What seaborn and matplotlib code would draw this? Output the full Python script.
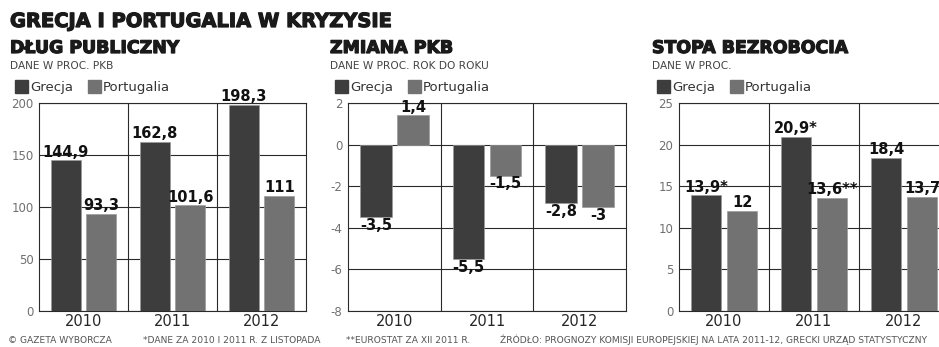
import matplotlib
matplotlib.use("Agg")
import matplotlib.pyplot as plt
import matplotlib.patheffects as pe
import seaborn as sns
import pandas as pd
from matplotlib.patches import Patch

years = ["2010", "2011", "2012"]
countries = ["Grecja", "Portugalia"]

dlug_grecja = [144.9, 162.8, 198.3]
dlug_portugalia = [93.3, 101.6, 111]
dlug_labels_g = ["144,9", "162,8", "198,3"]
dlug_labels_p = ["93,3", "101,6", "111"]

pkb_grecja = [-3.5, -5.5, -2.8]
pkb_portugalia = [1.4, -1.5, -3]
pkb_labels_g = ["-3,5", "-5,5", "-2,8"]
pkb_labels_p = ["1,4", "-1,5", "-3"]

bezrob_grecja = [13.9, 20.9, 18.4]
bezrob_portugalia = [12, 13.6, 13.7]
bezrob_labels_g = ["13,9*", "20,9*", "18,4"]
bezrob_labels_p = ["12", "13,6**", "13,7"]

sns.set_theme(style="white")
plt.rcParams['font.family'] = ['DejaVu Sans']

W, H = 939, 347
fig = plt.figure(figsize=(W / 100, H / 100), dpi=100)
fig.patch.set_facecolor("white")

palette = {"Grecja": "#3d3d3d", "Portugalia": "#727272"}
grid_c = "#2a2a2a"
heavy = [pe.withStroke(linewidth=0.9, foreground="#1a1a1a")]


def px(x0, y0, x1, y1):
    return [x0 / W, 1 - y1 / H, (x1 - x0) / W, (y1 - y0) / H]


def panel(rect, g, p, lg, lp, ylim, yticks, title, sub, tx):
    ax = fig.add_axes(rect)
    df = pd.DataFrame({
        "rok": years * 2,
        "kraj": ["Grecja"] * 3 + ["Portugalia"] * 3,
        "val": list(g) + list(p),
    })
    sns.barplot(data=df, x="rok", y="val", hue="kraj", palette=palette,
                width=0.8, gap=0.15, ax=ax, legend=False, edgecolor="#9a9a9a",
                linewidth=0.5, zorder=3)
    ax.set_ylim(*ylim)
    ax.set_xlim(-0.5, 2.5)
    ax.set_yticks(yticks)
    ax.set_yticklabels([str(t) for t in yticks], color="#707070", fontsize=8.5)
    ax.tick_params(axis="y", length=3, width=0.8, color=grid_c, pad=1)
    ax.tick_params(axis="x", length=0, labelsize=10.5, pad=2)
    ax.set_xlabel("")
    ax.set_ylabel("")
    for yv in yticks:
        ax.axhline(yv, color=grid_c, lw=0.8, zorder=1)
    for xv in [0.5, 1.5]:
        ax.axvline(xv, color=grid_c, lw=0.8, zorder=1)
    for s in ax.spines.values():
        s.set_color(grid_c)
        s.set_linewidth(0.8)
    for cont, labs in zip(ax.containers, [lg, lp]):
        ax.bar_label(cont, labels=labs, padding=0.5, fontsize=10.5,
                     fontweight="bold", color="#111111", zorder=5)
    fig.text(tx / W, 1 - 53 / H, title, fontsize=12.5, fontweight="heavy",
             color="#1a1a1a", ha="left", va="baseline", path_effects=heavy)
    fig.text(tx / W, 1 - 69 / H, sub, fontsize=7.6, color="#444444",
             ha="left", va="baseline")
    handles = [Patch(facecolor=palette[c], edgecolor=palette[c]) for c in countries]
    ax.legend(handles, countries, ncol=2, loc="center left",
              bbox_to_anchor=((tx - 7) / W, 1 - 87 / H), bbox_transform=fig.transFigure,
              frameon=False, handlelength=1.0, handleheight=1.1, handletextpad=0.15,
              columnspacing=1.1, fontsize=9.5, labelcolor="#333333")
    return ax


panel(px(39, 103, 306, 311), dlug_grecja, dlug_portugalia, dlug_labels_g,
      dlug_labels_p, (0, 200), [0, 50, 100, 150, 200], "DŁUG PUBLICZNY",
      "DANE W PROC. PKB", 10)
panel(px(348, 103, 626, 311), pkb_grecja, pkb_portugalia, pkb_labels_g,
      pkb_labels_p, (-8, 2), [-8, -6, -4, -2, 0, 2], "ZMIANA PKB",
      "DANE W PROC. ROK DO ROKU", 330)
panel(px(679, 103, 949, 311), bezrob_grecja, bezrob_portugalia, bezrob_labels_g,
      bezrob_labels_p, (0, 25), [0, 5, 10, 15, 20, 25], "STOPA BEZROBOCIA",
      "DANE W PROC.", 652)

fig.text(10 / W, 1 - 27 / H, "GRECJA I PORTUGALIA W KRYZYSIE", fontsize=14,
         fontweight="heavy", color="#1a1a1a", ha="left", va="baseline",
         path_effects=heavy)

foot = dict(fontsize=6.6, color="#555555", va="baseline", ha="left")
fig.text(8 / W, 1 - 343 / H, "© GAZETA WYBORCZA", **foot)
fig.text(143 / W, 1 - 343 / H, "*DANE ZA 2010 I 2011 R. Z LISTOPADA", **foot)
fig.text(346 / W, 1 - 343 / H, "**EUROSTAT ZA XII 2011 R.", **foot)
fig.text(500 / W, 1 - 343 / H,
         "ŹRÓDŁO: PROGNOZY KOMISJI EUROPEJSKIEJ NA LATA 2011-12, GRECKI URZĄD STATYSTYCZNY",
         **foot)

fig.savefig("out.png", dpi=100, facecolor="white")
